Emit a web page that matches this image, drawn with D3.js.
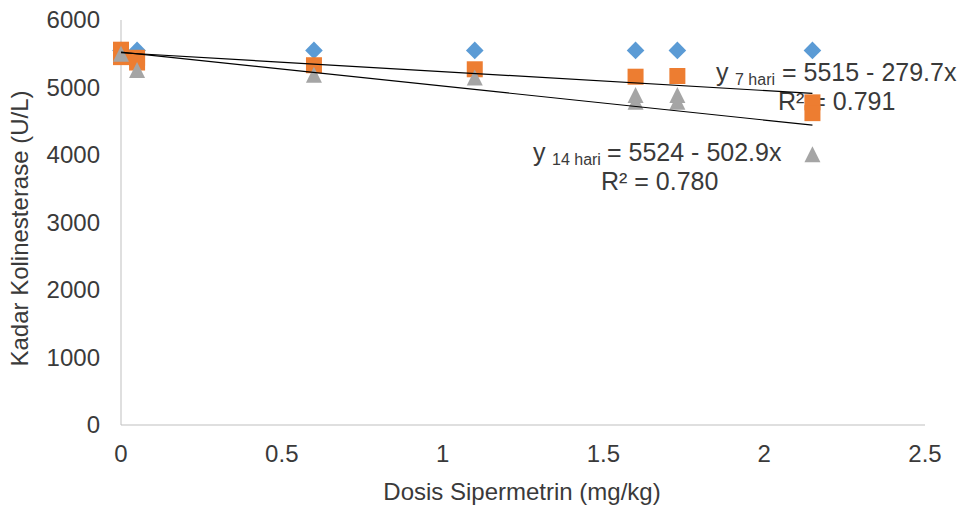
<!DOCTYPE html>
<html>
<head>
<meta charset="utf-8">
<script src="https://cdn.jsdelivr.net/npm/d3@7"></script>
<style>
    body { margin: 0; background: #fff; }
    text { font-family: Arial, "Liberation Sans", sans-serif; fill: #3a3a3a; }
</style>
</head>
<body>
<svg></svg>
<script>
// data
var dose0 = [0, 0.05, 0.6, 1.1, 1.6, 1.73, 2.15],
    hari0 = [5550, 5550, 5550, 5550, 5550, 5550, 5550];
var dose7 = [0, 0, 0.05, 0.05, 0.6, 1.1, 1.6, 1.73, 2.15, 2.15],
    hari7 = [5560, 5450, 5440, 5370, 5330, 5270, 5160, 5170, 4780, 4620];
var dose14 = [0, 0.05, 0.6, 1.1, 1.6, 1.6, 1.73, 1.73, 2.15],
    hari14 = [5500, 5260, 5190, 5150, 4890, 4790, 4890, 4790, 4010];
var trend7 = [5515, -279.7],
    trend14 = [5524, -502.9];
var xTicks = [0, 0.5, 1, 1.5, 2, 2.5],
    yTicks = [0, 1000, 2000, 3000, 4000, 5000, 6000];

var margin = {top: 20, right: 38, bottom: 81, left: 121},
    width = 963,
    height = 506;

var x = d3.scaleLinear().domain([0, 2.5]).range([margin.left, width - margin.right]),
    y = d3.scaleLinear().domain([0, 6000]).range([height - margin.bottom, margin.top]);

var svg = d3.select("svg")
    .attr("width", width)
    .attr("height", height);

// axes lines
svg.append("line")
    .attr("x1", x(0)).attr("x2", x(0))
    .attr("y1", y(6000)).attr("y2", y(0))
    .attr("stroke", "#bfbfbf");
svg.append("line")
    .attr("x1", x(0)).attr("x2", x(2.5))
    .attr("y1", y(0)).attr("y2", y(0))
    .attr("stroke", "#bfbfbf");

svg.selectAll(".ytick")
    .data(yTicks)
    .enter().append("text")
    .attr("class", "ytick")
    .attr("x", 100)
    .attr("y", function(d) { return y(d); })
    .attr("dy", ".35em")
    .attr("text-anchor", "end")
    .style("font-size", "24px")
    .text(d3.format("d"));

svg.selectAll(".xtick")
    .data(xTicks)
    .enter().append("text")
    .attr("class", "xtick")
    .attr("x", function(d) { return x(d); })
    .attr("y", 462)
    .attr("text-anchor", "middle")
    .style("font-size", "24px")
    .text(function(d) { return String(d); });

svg.append("text")
    .attr("x", 522).attr("y", 500)
    .attr("text-anchor", "middle")
    .style("font-size", "24px")
    .text("Dosis Sipermetrin (mg/kg)");

svg.append("text")
    .attr("transform", "translate(28," + (y(3000) + 6) + ")rotate(-90)")
    .attr("text-anchor", "middle")
    .style("font-size", "24px")
    .text("Kadar Kolinesterase (U/L)");

// equations (drawn under the markers, like the original)
function eq(xp, yp, sub, rest) {
    var t = svg.append("text")
        .attr("y", yp)
        .style("font-size", "25px");
    t.append("tspan").attr("x", xp).text("y");
    t.append("tspan").attr("x", xp + 19).attr("dy", 4).style("font-size", "16px").text(sub);
    t.append("tspan").attr("x", xp + 19 + (sub.length > 6 ? 55 : 47)).attr("dy", -4).text("= " + rest);
}
eq(716, 81, "7 hari", "5515 - 279.7x");
svg.append("text").attr("x", 778).attr("y", 110).style("font-size", "25px").text("R² = 0.791");
eq(533, 161, "14 hari", "5524 - 502.9x");
svg.append("text").attr("x", 601).attr("y", 190).style("font-size", "25px").text("R² = 0.780");

// markers
var s = 8;
function diamond(d) { var r = s + 0.8; return "M0," + (-r) + "L" + r + ",0L0," + r + "L" + (-r) + ",0Z"; }
function square(d) { return "M" + (-s) + "," + (-s) + "h" + 2 * s + "v" + 2 * s + "h" + (-2 * s) + "Z"; }
function triangle(d) { return "M0," + (-s) + "L" + s + "," + s + "L" + (-s) + "," + s + "Z"; }

function series(dose, vals, shape, color) {
    svg.append("g").selectAll("path")
        .data(dose.map(function(d, i) { return [d, vals[i]]; }))
        .enter().append("path")
        .attr("transform", function(d) { return "translate(" + x(d[0]) + "," + y(d[1]) + ")"; })
        .attr("d", shape)
        .attr("fill", color);
}
series(dose0, hari0, diamond, "#5b9bd5");
series(dose7, hari7, square, "#ed7d31");
series(dose14, hari14, triangle, "#a5a5a5");

// trend lines
[trend7, trend14].forEach(function(t) {
    svg.append("line")
        .attr("x1", x(0)).attr("y1", y(t[0]))
        .attr("x2", x(2.15)).attr("y2", y(t[0] + t[1] * 2.15))
        .attr("stroke", "#000")
        .attr("stroke-width", 1.2);
});
</script>
</body>
</html>
